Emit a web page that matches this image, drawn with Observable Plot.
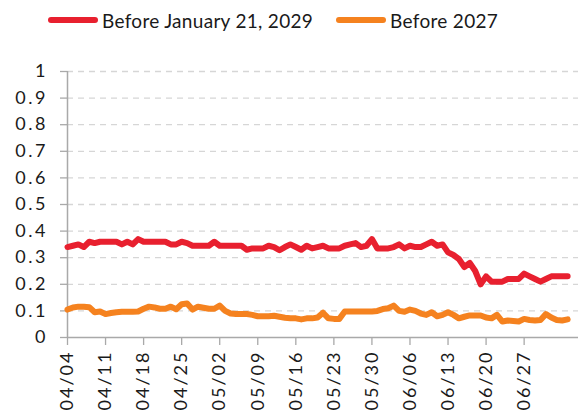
<!DOCTYPE html>
<html>
<head>
<meta charset="utf-8">
<script src="https://cdn.jsdelivr.net/npm/d3@7"></script>
<script src="https://cdn.jsdelivr.net/npm/@observablehq/plot@0.6"></script>
<style>
  html, body { margin: 0; padding: 0; background: #fff; }
  body { width: 578px; height: 417px; overflow: hidden; font-family: Lato, "Open Sans", sans-serif; color: #1a1a1a; }
  #legend { height: 40px; display: flex; align-items: center; padding-left: 48px; box-sizing: border-box; font-size: 19px; letter-spacing: 0.3px; }
  .item { display: flex; align-items: center; margin-right: 23px; }
  .sw { width: 50px; height: 6px; border-radius: 3px; margin-right: 4px; }
  #chart svg { display: block; overflow: visible; }
  .ylab text { letter-spacing: 2.5px; }
  .xlab text { letter-spacing: 2px; }
</style>
</head>
<body>
<div id="legend"></div>
<div id="chart"></div>
<script>
const startDate = "2025-04-04";
const seriesNames = ["Before January 21, 2029", "Before 2027"];
const seriesColors = ["#e8202f", "#f5821f"];

// one value per day starting 04/04
const before2029 = [
  0.34, 0.345, 0.35, 0.34, 0.36, 0.355, 0.36, 0.36, 0.36, 0.36,
  0.35, 0.36, 0.35, 0.37, 0.36, 0.36, 0.36, 0.36, 0.36, 0.35,
  0.35, 0.36, 0.355, 0.345, 0.345, 0.345, 0.345, 0.36, 0.345, 0.345,
  0.345, 0.345, 0.345, 0.33, 0.335, 0.335, 0.335, 0.345, 0.34, 0.328,
  0.34, 0.35, 0.34, 0.33, 0.345, 0.335, 0.34, 0.345, 0.335, 0.335,
  0.335, 0.345, 0.35, 0.355, 0.34, 0.345, 0.37, 0.335, 0.335, 0.335,
  0.34, 0.35, 0.335, 0.345, 0.34, 0.34, 0.35, 0.36, 0.345, 0.35,
  0.32, 0.31, 0.295, 0.265, 0.28, 0.25, 0.2, 0.23, 0.21, 0.21,
  0.21, 0.22, 0.22, 0.22, 0.24, 0.23, 0.22, 0.21, 0.22, 0.23,
  0.23, 0.23, 0.23
];
const before2027 = [
  0.105, 0.113, 0.116, 0.116, 0.114, 0.095, 0.098, 0.088, 0.092, 0.095,
  0.097, 0.097, 0.097, 0.098, 0.108, 0.116, 0.113, 0.108, 0.108, 0.116,
  0.106, 0.125, 0.128, 0.105, 0.116, 0.112, 0.108, 0.108, 0.12, 0.1,
  0.09, 0.088, 0.088, 0.088, 0.085, 0.08, 0.08, 0.08, 0.082, 0.078,
  0.074, 0.072, 0.072, 0.068, 0.072, 0.072, 0.075, 0.093, 0.072, 0.07,
  0.07, 0.098, 0.098, 0.098, 0.098, 0.098, 0.098, 0.1, 0.107, 0.11,
  0.12, 0.1, 0.097, 0.105, 0.1, 0.09, 0.085, 0.095, 0.08, 0.085,
  0.095, 0.085, 0.072, 0.078, 0.083, 0.083, 0.083, 0.075, 0.072, 0.085,
  0.06, 0.064, 0.062, 0.06, 0.07, 0.066, 0.064, 0.066, 0.088, 0.075,
  0.066, 0.064, 0.068
];

const yTicks = [0, 0.1, 0.2, 0.3, 0.4, 0.5, 0.6, 0.7, 0.8, 0.9, 1];
const yTickLabels = ["0", "0.1", "0.2", "0.3", "0.4", "0.5", "0.6", "0.7", "0.8", "0.9", "1"];
const xTickLabels = ["04/04", "04/11", "04/18", "04/25", "05/02", "05/09", "05/16", "05/23", "05/30", "06/06", "06/13", "06/20", "06/27"];

const start = new Date(startDate + "T00:00:00Z");
const year = start.getUTCFullYear();
const xTicks = xTickLabels.map(s => new Date(`${year}-${s.replace("/", "-")}T00:00:00Z`));

const seriesValues = [before2029, before2027];
const data = [];
seriesValues.forEach((vals, k) => {
  vals.forEach((v, i) => data.push({ series: seriesNames[k], date: d3.utcDay.offset(start, i), value: v }));
});

// legend
const legend = document.getElementById("legend");
seriesNames.forEach((name, k) => {
  const it = document.createElement("div");
  it.className = "item";
  const sw = document.createElement("div");
  sw.className = "sw";
  sw.style.background = seriesColors[k];
  const tx = document.createElement("span");
  tx.textContent = name;
  it.appendChild(sw);
  it.appendChild(tx);
  legend.appendChild(it);
});

const axisColor = "#a9a9a9";
const chart = Plot.plot({
  width: 578,
  height: 377,
  marginLeft: 67,
  marginRight: 0,
  marginTop: 31,
  marginBottom: 80,
  style: { fontFamily: "Lato, 'Open Sans', sans-serif", color: "#1a1a1a", background: "#fff" },
  x: { type: "utc", domain: [start, d3.utcDay.offset(start, 94)] },
  y: { domain: [0, 1] },
  color: { domain: seriesNames, range: seriesColors },
  marks: [
    Plot.gridY(yTicks.slice(1), { stroke: "#d6d6d6", strokeOpacity: 1, strokeWidth: 1.3, strokeDasharray: "6,5" }),
    Plot.axisY(yTicks, {
      tickFormat: (d, i) => yTickLabels[i],
      tickSize: 7, tickPadding: 12.5, fontSize: 18,
      stroke: axisColor, strokeWidth: 1.3, fill: "#1a1a1a", label: null, className: "ylab"
    }),
    Plot.axisX(xTicks, {
      tickFormat: (d, i) => xTickLabels[i],
      tickSize: 8, tickPadding: 5, tickRotate: -90, fontSize: 18,
      stroke: axisColor, strokeWidth: 1.3, fill: "#1a1a1a", label: null, className: "xlab"
    }),
    Plot.ruleX([start], { stroke: axisColor, strokeWidth: 1.5 }),
    Plot.ruleY([0], { stroke: axisColor, strokeWidth: 1.5 }),
    Plot.line(data, {
      x: "date", y: "value", z: "series", stroke: "series",
      strokeWidth: 6, strokeLinejoin: "round", strokeLinecap: "round", curve: "linear"
    })
  ]
});
document.getElementById("chart").appendChild(chart);
</script>
</body>
</html>
